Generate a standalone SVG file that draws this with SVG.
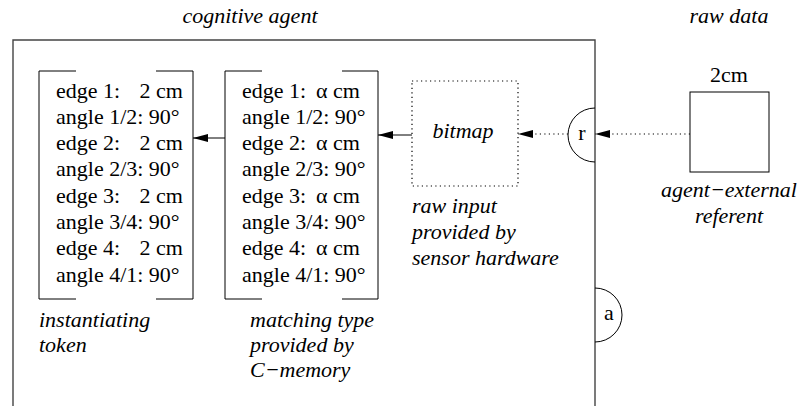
<svg xmlns="http://www.w3.org/2000/svg" width="802" height="406" viewBox="0 0 802 406">
<defs>
<style>
text{font-family:"Liberation Serif","Times New Roman",serif;font-size:22px;fill:#000}
.it{font-style:italic}
.mid{text-anchor:middle}
.end{text-anchor:end}
.frame{fill:none;stroke:#444;stroke-width:1.4}
.ln{fill:none;stroke:#000;stroke-width:1}
.dot{fill:none;stroke:#000;stroke-width:1.2;stroke-dasharray:1.2 3.3}
</style>
<marker id="ah" markerWidth="15" markerHeight="8" refX="15" refY="4" orient="auto" markerUnits="userSpaceOnUse">
<path d="M0,0 L15,4 L0,8 Z" fill="#000"/>
</marker>
</defs>
<rect width="802" height="406" fill="#fff"/>

<g id="agent">
<path class="frame" d="M13,406 V40 H595 V406"/>
<text class="it mid" x="250" y="23">cognitive agent</text>
</g>

<g id="rawdata-label">
<text class="it mid" x="729" y="23">raw data</text>
</g>

<g id="token">
<path class="ln" d="M76,71 H39 V299 H76 M156,71 H193 V299 H156"/>
<text x="56" y="97.5">edge 1:<tspan class="end" x="183" text-anchor="end">2 cm</tspan></text>
<text x="56" y="123.8">angle 1/2: 90°</text>
<text x="56" y="150.1">edge 2:<tspan x="183" text-anchor="end">2 cm</tspan></text>
<text x="56" y="176.4">angle 2/3: 90°</text>
<text x="56" y="202.7">edge 3:<tspan x="183" text-anchor="end">2 cm</tspan></text>
<text x="56" y="229">angle 3/4: 90°</text>
<text x="56" y="255.3">edge 4:<tspan x="183" text-anchor="end">2 cm</tspan></text>
<text x="56" y="281.6">angle 4/1: 90°</text>
<text class="it" x="39" y="327">instantiating</text>
<text class="it" x="39" y="352">token</text>
</g>

<g id="type">
<path class="ln" d="M262,71 H225 V299 H262 M342,71 H378 V299 H342"/>
<text x="242" y="97.5">edge 1:<tspan x="316">α cm</tspan></text>
<text x="242" y="123.8">angle 1/2: 90°</text>
<text x="242" y="150.1">edge 2:<tspan x="316">α cm</tspan></text>
<text x="242" y="176.4">angle 2/3: 90°</text>
<text x="242" y="202.7">edge 3:<tspan x="316">α cm</tspan></text>
<text x="242" y="229">angle 3/4: 90°</text>
<text x="242" y="255.3">edge 4:<tspan x="316">α cm</tspan></text>
<text x="242" y="281.6">angle 4/1: 90°</text>
<text class="it" x="250" y="327">matching type</text>
<text class="it" x="250" y="352">provided by</text>
<text class="it" x="250" y="377">C−memory</text>
</g>

<g id="bitmap">
<rect class="dot" x="412" y="81" width="106" height="105"/>
<text class="it mid" x="463" y="138">bitmap</text>
<text class="it" x="412" y="213">raw input</text>
<text class="it" x="412" y="239">provided by</text>
<text class="it" x="412" y="265">sensor hardware</text>
</g>

<g id="r">
<path class="ln" d="M595,108 A27,27 0 0 0 595,162"/>
<text class="mid" x="582" y="140">r</text>
</g>

<g id="a">
<path class="ln" d="M595,288 A27,27 0 0 1 595,342"/>
<text class="mid" x="609" y="320">a</text>
</g>

<g id="referent">
<rect class="ln" x="690" y="92" width="79" height="80"/>
<text class="mid" x="729" y="82">2cm</text>
<text class="it mid" x="729" y="197">agent−external</text>
<text class="it mid" x="729" y="223">referent</text>
</g>

<g id="connectors">
<line class="ln" x1="225" y1="138" x2="193" y2="138" marker-end="url(#ah)"/>
<line class="ln" x1="412" y1="135" x2="378" y2="135" marker-end="url(#ah)"/>
<line class="dot" x1="568" y1="134" x2="518" y2="134" marker-end="url(#ah)"/>
<line class="dot" x1="690" y1="134" x2="595" y2="134" marker-end="url(#ah)"/>
</g>
</svg>
